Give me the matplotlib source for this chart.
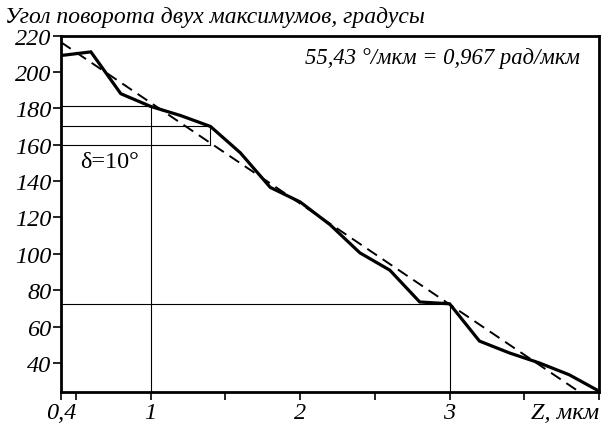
import matplotlib
matplotlib.use('Agg')
import matplotlib.pyplot as plt
import numpy as np

# data
z = [0.4, 0.6, 0.8, 1.0, 1.2, 1.4, 1.6, 1.8, 2.0, 2.2,
     2.4, 2.6, 2.8, 3.0, 3.2, 3.4, 3.6, 3.8, 4.0]
angle = [209, 211, 188, 181, 176, 170, 155.5, 136.5, 128.5, 116,
         100.5, 91, 73.5, 72.5, 52, 45.5, 40, 33.5, 24.5]

# linear fit (dashed)
fit_z = [0.4, 3.85]
fit_slope = 55.43
fit_y0 = 216.3

# guide lines
h_lines = [(181.5, 1.0), (170, 1.4), (160, 1.4), (72.5, 3.0)]  # (y, x_end)
v_lines = [(1.0, 24, 181.5), (1.4, 160, 170), (3.0, 24, 72.5)]  # (x, y0, y1)

xticks = [0.4, 1, 2, 3, 4]
xticklabels = ['0,4', '1', '2', '3', 'Z, мкм']
xminor = [0.5, 1.5, 2.5, 3.5]
yticks = [40, 60, 80, 100, 120, 140, 160, 180, 200, 220]

tick_fs = 17.5
font = 'Liberation Serif'
plt.rcParams['font.family'] = [font, 'DejaVu Serif']

fig = plt.figure(figsize=(6.03, 4.27), dpi=100)
ax = fig.add_axes([0.1012, 0.0796, 0.8922, 0.8349])

ax.plot(z, angle, color='k', linewidth=2.3, solid_joinstyle='miter', zorder=3)
fz = np.array(fit_z)
ax.plot(fz, fit_y0 - fit_slope * (fz - fit_z[0]), color='k', linewidth=1.4,
        dashes=(6, 3.5), zorder=3)

for y, xe in h_lines:
    ax.plot([0.4, xe], [y, y], color='k', linewidth=0.8)
for x, y0, y1 in v_lines:
    ax.plot([x, x], [y0, y1], color='k', linewidth=0.8)

ax.text(0.53, 150.5, 'δ=10°', fontsize=17.5, va='center', ha='left')
ax.text(3.87, 208, '55,43 °/мкм = 0,967 рад/мкм', fontsize=16.3,
        style='italic', ha='right', va='center')

ax.set_xlim(0.4, 4.0)
ax.set_ylim(24, 220)
ax.set_xticks(xticks)
ax.set_xticklabels(xticklabels, style='italic', fontsize=tick_fs)
ax.get_xticklabels()[-1].set_ha('right')
ax.set_xticks(xminor, minor=True)
ax.set_yticks(yticks)
ax.set_yticklabels([str(v) for v in yticks], style='italic', fontsize=tick_fs)
ax.tick_params(axis='both', which='both', direction='out', length=6, width=1.2, pad=1)
ax.tick_params(top=False, right=False)
for s in ax.spines.values():
    s.set_linewidth(2)

fig.text(0.008, 0.958, 'Угол поворота двух максимумов, градусы', fontsize=17,
         style='italic', va='center', ha='left')

fig.savefig('out.png', dpi=100)
